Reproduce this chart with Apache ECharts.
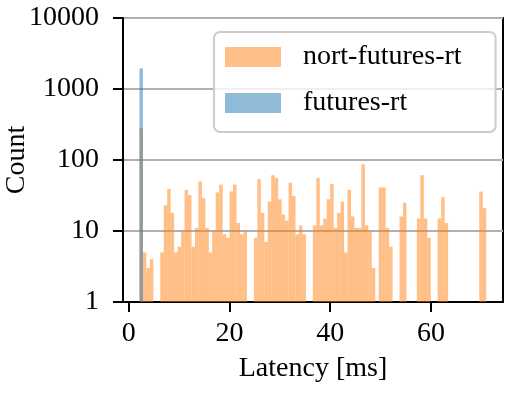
<!DOCTYPE html>
<html>
<head>
<meta charset="utf-8">
<script src="https://cdn.jsdelivr.net/npm/echarts@6/dist/echarts.min.js"></script>
<style>
  html, body { margin: 0; padding: 0; background: #fff; }
  #chart { width: 512px; height: 394px; }
</style>
</head>
<body>
<div id="chart"></div>
<script>
// histogram bins (ms): 100 equal bins between binLo and binHi
const binLo = 2.12;
const binHi = 70.97;
const binCount = 100;

// counts per bin (0 = empty bin)
const nortCounts = [
  280, 5, 3, 4, 0, 0, 5, 23, 39, 18,
  5, 6, 10, 38, 32, 6, 11, 50, 29, 11,
  5, 10, 35, 45, 9, 8, 36, 45, 13, 9,
  10, 0, 0, 8, 54, 18, 7, 26, 61, 56,
  28, 17, 14, 48, 31, 9, 12, 9, 0, 0,
  12, 56, 12, 15, 28, 46, 11, 18, 26, 5,
  38, 16, 11, 11, 87, 12, 10, 3, 0, 41,
  41, 11, 6, 0, 0, 16, 25, 0, 0, 0,
  15, 61, 15, 8, 0, 0, 15, 30, 13, 0,
  0, 0, 0, 0, 0, 0, 0, 0, 36, 21
];
// futures-rt sits entirely in the first bin
const rtBins = [[2.12, 2.8085, 1950]];

const xTicks = [0, 20, 40, 60];
const yTicks = [1, 10, 100, 1000, 10000];

const FONT = 'Liberation Serif';
const binW = (binHi - binLo) / binCount;

// turn counts into [left, right, count] rows, skipping empty bins
const toRows = (counts) => {
  const rows = [];
  counts.forEach((c, i) => {
    if (c > 0) rows.push([binLo + i * binW, binLo + (i + 1) * binW, c]);
  });
  return rows;
};

const renderBin = (params, api) => {
  const top = api.coord([api.value(0), api.value(2)]);
  const base = api.coord([api.value(1), 1]);
  return {
    type: 'rect',
    shape: { x: top[0], y: top[1], width: base[0] - top[0], height: base[1] - top[1] },
    style: api.style()
  };
};

const chart = echarts.init(document.getElementById('chart'));

chart.setOption({
  animation: false,
  backgroundColor: '#fff',
  textStyle: { fontFamily: FONT, color: '#000' },
  grid: {
    left: 123, right: 9, top: 18, bottom: 92,
    outerBoundsMode: 'none', containLabel: false,
    show: true, borderColor: '#000', borderWidth: 2
  },
  legend: {
    orient: 'vertical',
    left: 214, top: 32,
    padding: [11, 34, 15, 11],
    itemWidth: 56, itemHeight: 20, itemGap: 18,
    icon: 'rect',
    backgroundColor: 'rgba(255,255,255,0.8)',
    borderColor: '#cccccc', borderWidth: 2, borderRadius: 6,
    textStyle: { fontFamily: FONT, fontSize: 28, color: '#000', lineHeight: 20, padding: [0, 0, 0, 17] },
    data: ['nort-futures-rt', 'futures-rt']
  },
  xAxis: {
    type: 'value',
    min: -1.15, max: 74.3,
    name: 'Latency [ms]', nameLocation: 'middle', nameGap: 53, nameMoveOverlap: false,
    nameTextStyle: { fontFamily: FONT, fontSize: 28, color: '#000' },
    axisLine: { show: true, onZero: false, lineStyle: { color: '#000', width: 2 } },
    axisTick: { show: true, length: 10, lineStyle: { color: '#000', width: 2 }, customValues: xTicks },
    axisLabel: { margin: 18, fontSize: 28, color: '#000', fontFamily: FONT, customValues: xTicks },
    splitLine: { show: false }
  },
  yAxis: {
    type: 'log', logBase: 10,
    min: 1, max: 10000,
    name: 'Count', nameLocation: 'middle', nameGap: 106, nameRotate: 90, nameMoveOverlap: false,
    nameTextStyle: { fontFamily: FONT, fontSize: 28, color: '#000', align: 'center', verticalAlign: 'middle' },
    axisLine: { show: true, onZero: false, lineStyle: { color: '#000', width: 2 } },
    axisTick: { show: true, length: 10, lineStyle: { color: '#000', width: 2 }, customValues: yTicks },
    axisLabel: {
      margin: 24, fontSize: 28, color: '#000', fontFamily: FONT, customValues: yTicks,
      formatter: (v) => String(Math.round(v))
    },
    splitLine: { show: true, lineStyle: { color: '#b0b0b0', width: 2 } }
  },
  series: [
    {
      name: 'nort-futures-rt',
      type: 'custom',
      renderItem: renderBin,
      encode: { x: [0, 1], y: 2 },
      itemStyle: { color: 'rgba(255,127,14,0.5)' },
      data: toRows(nortCounts)
    },
    {
      name: 'futures-rt',
      type: 'custom',
      renderItem: renderBin,
      encode: { x: [0, 1], y: 2 },
      itemStyle: { color: 'rgba(31,119,180,0.5)' },
      data: rtBins
    }
  ]
});
</script>
</body>
</html>
